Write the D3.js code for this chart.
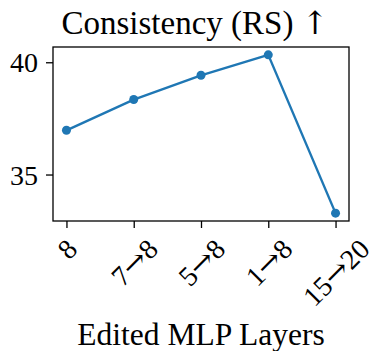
<!DOCTYPE html>
<html><head><meta charset="utf-8">
<script src="https://cdn.jsdelivr.net/npm/d3@7"></script>
<style>body{margin:0;background:#fff}svg{display:block}text{font-family:"Liberation Serif","Times New Roman",serif;fill:#000}</style>
</head><body><svg id="c" width="371" height="351"></svg>
<script>
const categories = ["8", "7\u21928", "5\u21928", "1\u21928", "15\u219220"];
const values = [36.97, 38.34, 39.42, 40.33, 33.28];
const yTicks = [35, 40];
const title = "Consistency (RS) \u2191";
const xLabel = "Edited MLP Layers";

const svg = d3.select("#c");
const L = 53, R = 349, T = 47, B = 221;
const x = d3.scaleLinear().domain([-0.2, 4.2]).range([L, R]);
const y = d3.scaleLinear().domain([32.93, 40.68]).range([B, T]);
const color = "#1f77b4";
const ARROW_FONT = "DejaVu Serif";

function fillWithArrows(sel, str, arrowScale) {
  sel.text(null);
  const parts = str.split(/([\u2192\u2191])/);
  parts.forEach(p => {
    if (!p) return;
    const ts = sel.append("tspan").text(p);
    if (p === "\u2192" || p === "\u2191") ts.attr("font-family", ARROW_FONT).attr("font-size", arrowScale);
  });
}

// frame
svg.append("rect").attr("x", L).attr("y", T).attr("width", R - L).attr("height", B - T)
  .attr("fill", "none").attr("stroke", "#000").attr("stroke-width", 1.3);

// y axis
const yAxis = d3.axisLeft(y).tickValues(yTicks).tickSize(7).tickPadding(8).tickFormat(d3.format("d"));
const gy = svg.append("g").attr("transform", `translate(${L},0)`).call(yAxis);
gy.select(".domain").remove();
gy.selectAll(".tick line").attr("stroke", "#000").attr("stroke-width", 1.3);
gy.selectAll(".tick text").attr("font-size", 28).attr("font-family", "Liberation Serif").attr("fill", "#000").attr("dy", "0.34em");

// x axis
const xAxis = d3.axisBottom(x).tickValues(d3.range(categories.length)).tickSize(7).tickFormat(i => categories[i]);
const gx = svg.append("g").attr("transform", `translate(0,${B})`).call(xAxis);
gx.select(".domain").remove();
gx.selectAll(".tick line").attr("stroke", "#000").attr("stroke-width", 1.3);
gx.selectAll(".tick text").each(function(i) {
  const t = d3.select(this);
  t.attr("font-size", 28).attr("font-family", "Liberation Serif").attr("fill", "#000")
   .attr("text-anchor", "middle").attr("dy", "0.35em").attr("y", 0);
  fillWithArrows(t, categories[i], 29);
  const bb = this.getBBox();
  const w = bb.width, h = 28 * 0.7;
  const off = (w + h) / (2 * Math.SQRT2);
  t.attr("transform", `translate(0,${16 + off}) rotate(-45)`);
});

// line
svg.append("path").datum(values)
  .attr("d", d3.line().x((d, i) => x(i)).y(d => y(d)))
  .attr("fill", "none").attr("stroke", color).attr("stroke-width", 2.4).attr("stroke-linejoin", "round");
svg.selectAll("circle.pt").data(values).join("circle").attr("class", "pt")
  .attr("cx", (d, i) => x(i)).attr("cy", d => y(d)).attr("r", 4.5).attr("fill", color);

// title
const tt = svg.append("text").attr("x", (L + R) / 2 - 6).attr("y", 34).attr("text-anchor", "middle")
  .attr("font-size", 33);
fillWithArrows(tt, title, 32);
// x label
svg.append("text").attr("x", (L + R) / 2).attr("y", 345).attr("text-anchor", "middle")
  .attr("font-size", 31.5).text(xLabel);
</script></body></html>
